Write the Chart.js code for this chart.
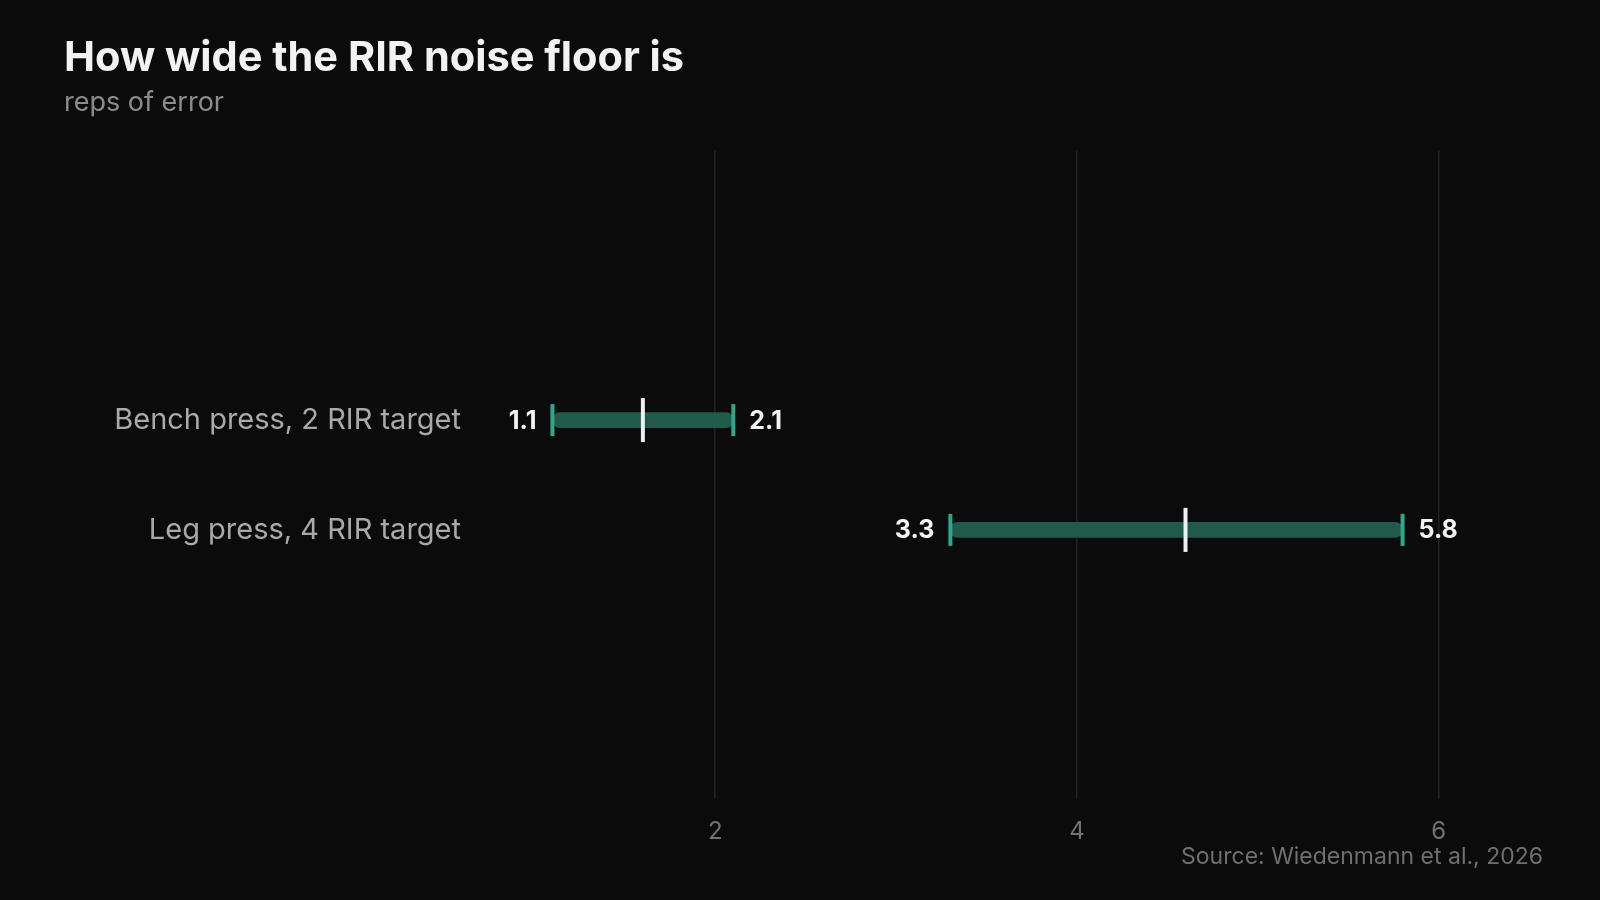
<!DOCTYPE html>
<html>
<head>
<meta charset="utf-8">
<script src="https://cdn.jsdelivr.net/npm/chart.js@4"></script>
<style>
  html, body { margin: 0; padding: 0; background: #0b0b0b; }
  body { width: 1600px; height: 900px; position: relative; overflow: hidden; font-family: Inter, "Noto Sans", sans-serif; }
  #wrap { position: absolute; left: 0; top: 0; width: 1600px; height: 900px; }
  .title { position: absolute; left: 64px; top: 36px; font-size: 41.5px; font-weight: 700; color: #f2f2f2; line-height: 1; }
  .subtitle { position: absolute; left: 64px; top: 88px; font-size: 27px; color: #8c8c8c; line-height: 1; }
  .source { position: absolute; right: 57px; top: 845px; font-size: 23px; color: #6f6f6f; line-height: 1; }
</style>
</head>
<body>
<div id="wrap"><canvas id="c" width="1600" height="900"></canvas></div>
<div class="title">How wide the RIR noise floor is</div>
<div class="subtitle">reps of error</div>
<div class="source">Source: Wiedenmann et al., 2026</div>
<script>
const categories = ["Bench press, 2 RIR target", "Leg press, 4 RIR target"];
const lowValues = [1.1, 3.3];
const highValues = [2.1, 5.8];
const midValues = [1.6, 4.6];
const xTickValues = [2, 4, 6];

const BAR = '#1f5a4a';
const CAP = '#2fa888';
const MID = '#efefef';

const rangeData = categories.map((c, i) => ({ x: [lowValues[i], highValues[i]], y: i }));
const lowCapData = categories.map((c, i) => ({ x: lowValues[i], y: i }));
const highCapData = categories.map((c, i) => ({ x: highValues[i], y: i }));
const midData = categories.map((c, i) => ({ x: midValues[i], y: i }));

const valueLabels = {
  id: 'valueLabels',
  afterDatasetsDraw(chart) {
    const ctx = chart.ctx;
    const xs = chart.scales.x, ys = chart.scales.y;
    ctx.save();
    ctx.font = '700 25px Inter, "Noto Sans", sans-serif';
    ctx.fillStyle = '#f2f2f2';
    ctx.textBaseline = 'middle';
    categories.forEach((c, i) => {
      const y = ys.getPixelForValue(i);
      ctx.textAlign = 'right';
      ctx.fillText(lowValues[i].toFixed(1), xs.getPixelForValue(lowValues[i]) - 16, y + 1);
      ctx.textAlign = 'left';
      ctx.fillText(highValues[i].toFixed(1), xs.getPixelForValue(highValues[i]) + 16, y + 1);
    });
    ctx.restore();
  }
};

new Chart(document.getElementById('c'), {
  type: 'bar',
  data: {
    datasets: [
      {
        type: 'bar', indexAxis: 'y', data: rangeData,
        backgroundColor: BAR, borderWidth: 0, borderRadius: 8, borderSkipped: false,
        barThickness: 15, order: 3
      },
      {
        type: 'scatter', data: lowCapData.concat(highCapData),
        pointStyle: 'line', rotation: 90, pointRadius: 16, pointHoverRadius: 16,
        borderColor: CAP, pointBorderWidth: 4, borderWidth: 4, order: 2
      },
      {
        type: 'scatter', data: midData,
        pointStyle: 'line', rotation: 90, pointRadius: 22, pointHoverRadius: 22,
        borderColor: MID, pointBorderWidth: 4, borderWidth: 4, order: 1
      }
    ]
  },
  options: {
    responsive: false,
    animation: false,
    devicePixelRatio: 1,
    layout: { padding: { left: 0, right: 107, top: 151, bottom: 0 } },
    plugins: { legend: { display: false }, tooltip: { enabled: false } },
    scales: {
      x: {
        type: 'linear', min: 0.6, max: 6.3, offset: false, grace: 0,
        afterBuildTicks: s => { s.ticks = xTickValues.map(v => ({ value: v })); },
        afterFit: s => { s.height = 101; },
        grid: { color: '#222222', lineWidth: 1.5, drawTicks: false, offset: false },
        border: { display: false },
        ticks: { color: '#727272', font: { family: 'Inter', size: 24 }, padding: 18, callback: v => String(v) }
      },
      y: {
        type: 'linear', reverse: true, min: -2.45, max: 3.45, offset: false, grace: 0,
        afterBuildTicks: s => { s.ticks = categories.map((c, i) => ({ value: i })); },
        afterFit: s => { s.width = 462; },
        grid: { display: false, drawTicks: false, offset: false },
        border: { display: false },
        ticks: { color: '#a9a9a9', font: { family: 'Inter', size: 29 }, padding: 1, callback: v => categories[v] }
      }
    }
  },
  plugins: [valueLabels]
});
</script>
</body>
</html>
